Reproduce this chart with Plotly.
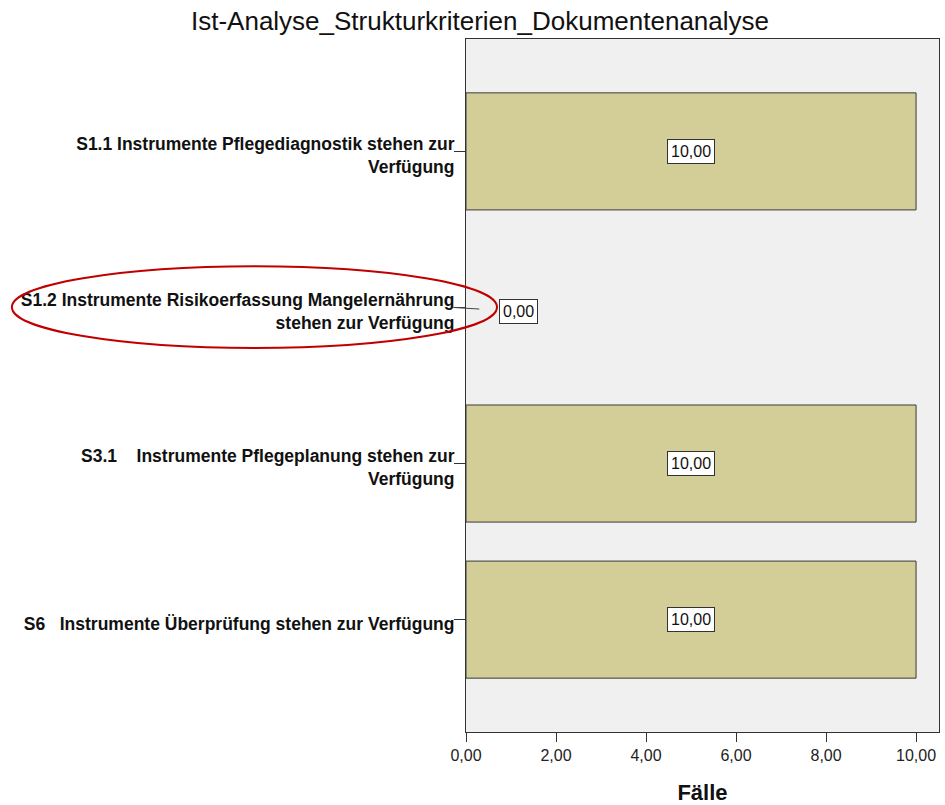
import plotly.graph_objects as go

categories = [
    "S1.1 Instrumente Pflegediagnostik stehen zur<br>Verfügung",
    "S1.2 Instrumente Risikoerfassung Mangelernährung<br>stehen zur Verfügung",
    "S3.1    Instrumente Pflegeplanung stehen zur<br>Verfügung",
    "S6   Instrumente Überprüfung stehen zur Verfügung",
]
values = [10.0, 0.0, 10.0, 10.0]
x_ticks = [0, 2, 4, 6, 8, 10]
x_ticklabels = ["0,00", "2,00", "4,00", "6,00", "8,00", "10,00"]

FONT = "Liberation Sans, Arial, sans-serif"

fig = go.Figure()
fig.add_trace(go.Bar(
    y=categories, x=values, orientation="h", width=0.75,
    marker=dict(color="#d3ce98",
                line=dict(color="#3a3a3a", width=[1 if v > 0 else 0 for v in values])),
    hoverinfo="skip",
))

def fmt(v):
    return f"{v:.2f}".replace(".", ",")

for cat, v in zip(categories, values):
    if v > 0:
        fig.add_annotation(x=v / 2, y=cat, xref="x", yref="y", text=fmt(v),
                           showarrow=False, bgcolor="white", bordercolor="#333333",
                           borderwidth=1, borderpad=3,
                           font=dict(family=FONT, size=16, color="#111"))
    else:
        fig.add_annotation(x=-0.027, y=cat, xref="paper", yref="y", text=fmt(v),
                           showarrow=True, arrowhead=0, arrowwidth=1, arrowcolor="#444",
                           ax=65, ay=4, standoff=0, startstandoff=20,
                           bgcolor="white", bordercolor="#333333", borderwidth=1, borderpad=3,
                           font=dict(family=FONT, size=16, color="#111"))

fig.add_shape(type="circle", xref="paper", yref="paper",
              x0=-0.960, x1=0.0655, y0=0.554, y1=0.672,
              line=dict(color="#c00000", width=2))

fig.update_layout(
    width=945, height=805,
    margin=dict(l=466, r=6, t=39, b=73),
    paper_bgcolor="white", plot_bgcolor="#f0f0f0",
    showlegend=False,
    title=dict(text="Ist-Analyse_Strukturkriterien_Dokumentenanalyse",
               x=480 / 945, xref="container", xanchor="center",
               y=1 - 21 / 805, yref="container", yanchor="middle",
               font=dict(family=FONT, size=26, color="#111")),
    xaxis=dict(range=[0, 10.51], tickvals=x_ticks, ticktext=x_ticklabels,
               ticks="outside", ticklen=9, tickcolor="#333", showgrid=False, zeroline=False,
               showline=True, linecolor="#333", linewidth=1, mirror=True, automargin=False,
               tickfont=dict(family=FONT, size=16, color="#222"),
               title=dict(text="<b>Fälle</b>", standoff=25,
                          font=dict(family=FONT, size=22, color="#111"))),
    yaxis=dict(range=[3.72, -0.72], type="category", automargin=False,
               ticks="outside", ticklen=11, tickcolor="#333", showgrid=False,
               showline=True, linecolor="#333", linewidth=1, mirror=True,
               ticklabelstandoff=-4, ticklabelshift=-4,
               tickfont=dict(family=FONT, size=17.5, color="#111", weight="bold")),
)

fig.write_html("out.html", config={"displayModeBar": False},
               post_script="document.body.style.margin='0';document.body.style.padding='0';")
